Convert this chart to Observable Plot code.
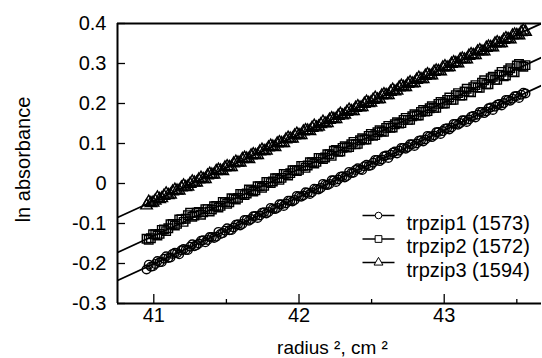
<!DOCTYPE html>
<html><head><meta charset="utf-8">
<script src="https://cdn.jsdelivr.net/npm/d3@7"></script>
<script src="https://cdn.jsdelivr.net/npm/@observablehq/plot@0.6"></script>
<style>
body{margin:0;background:#fff}
#chart svg{display:block}
</style>
</head><body><div id="chart"></div>
<script>
// ---- data ----
// scan A
const radiusSq = [40.95,40.98,41.01,41.04,41.07,41.10,41.13,41.16,41.19,41.22,41.25,41.28,41.31,41.34,41.37,41.40,41.43,41.46,41.49,41.52,41.55,41.58,41.61,41.64,41.67,41.70,41.73,41.76,41.79,41.82,41.85,41.88,41.91,41.94,41.97,42.00,42.03,42.06,42.09,42.12,42.15,42.18,42.21,42.24,42.27,42.30,42.33,42.36,42.39,42.42,42.45,42.48,42.51,42.54,42.57,42.60,42.63,42.66,42.69,42.72,42.75,42.78,42.81,42.84,42.87,42.90,42.93,42.96,42.99,43.02,43.05,43.08,43.11,43.14,43.17,43.20,43.23,43.26,43.29,43.32,43.35,43.38,43.41,43.44,43.47,43.50,43.53,43.56];
const trpzip1 = [-0.215,-0.208,-0.201,-0.197,-0.188,-0.186,-0.176,-0.174,-0.167,-0.166,-0.158,-0.157,-0.150,-0.142,-0.141,-0.134,-0.133,-0.126,-0.118,-0.117,-0.110,-0.102,-0.101,-0.091,-0.089,-0.081,-0.080,-0.072,-0.071,-0.063,-0.061,-0.052,-0.050,-0.043,-0.041,-0.032,-0.030,-0.023,-0.022,-0.014,-0.011,-0.003,-0.001,0.008,0.010,0.018,0.019,0.026,0.034,0.035,0.043,0.044,0.052,0.059,0.060,0.070,0.072,0.080,0.082,0.089,0.091,0.098,0.100,0.108,0.110,0.118,0.120,0.129,0.131,0.138,0.140,0.149,0.151,0.158,0.160,0.169,0.172,0.179,0.180,0.190,0.192,0.199,0.201,0.209,0.212,0.219,0.222,0.225];
const trpzip2 = [-0.138,-0.137,-0.127,-0.126,-0.115,-0.112,-0.101,-0.101,-0.089,-0.088,-0.073,-0.080,-0.071,-0.072,-0.064,-0.065,-0.056,-0.056,-0.047,-0.047,-0.038,-0.036,-0.026,-0.025,-0.017,-0.017,-0.007,-0.006,0.004,0.005,0.013,0.014,0.024,0.026,0.033,0.034,0.044,0.045,0.053,0.054,0.064,0.065,0.073,0.082,0.079,0.089,0.090,0.098,0.098,0.108,0.110,0.119,0.119,0.128,0.130,0.139,0.139,0.148,0.150,0.159,0.159,0.168,0.170,0.179,0.180,0.188,0.189,0.199,0.200,0.209,0.209,0.221,0.220,0.230,0.229,0.241,0.240,0.252,0.248,0.263,0.259,0.272,0.268,0.283,0.279,0.295,0.294,0.296];
const trpzip3 = [-0.055,-0.049,-0.043,-0.039,-0.031,-0.029,-0.020,-0.018,-0.010,-0.009,-0.001,0.002,0.010,0.011,0.020,0.022,0.031,0.032,0.040,0.041,0.050,0.052,0.061,0.062,0.070,0.071,0.080,0.081,0.090,0.092,0.100,0.101,0.110,0.112,0.120,0.121,0.130,0.132,0.139,0.140,0.148,0.150,0.159,0.161,0.169,0.170,0.179,0.181,0.189,0.190,0.199,0.201,0.209,0.210,0.220,0.221,0.229,0.230,0.240,0.241,0.249,0.250,0.259,0.261,0.269,0.270,0.279,0.281,0.290,0.290,0.299,0.301,0.310,0.310,0.319,0.321,0.330,0.330,0.339,0.341,0.350,0.350,0.359,0.361,0.370,0.371,0.378,0.379];
// scan B (interleaved points)
const radiusSqB = [40.965,40.995,41.025,41.055,41.085,41.115,41.145,41.175,41.205,41.235,41.265,41.295,41.325,41.355,41.385,41.415,41.445,41.475,41.505,41.535,41.565,41.595,41.625,41.655,41.685,41.715,41.745,41.775,41.805,41.835,41.865,41.895,41.925,41.955,41.985,42.015,42.045,42.075,42.105,42.135,42.165,42.195,42.225,42.255,42.285,42.315,42.345,42.375,42.405,42.435,42.465,42.495,42.525,42.555,42.585,42.615,42.645,42.675,42.705,42.735,42.765,42.795,42.825,42.855,42.885,42.915,42.945,42.975,43.005,43.035,43.065,43.095,43.125,43.155,43.185,43.215,43.245,43.275,43.305,43.335,43.365,43.395,43.425,43.455,43.485,43.515,43.545];
const trpzip1B = [-0.203,-0.207,-0.194,-0.196,-0.182,-0.185,-0.173,-0.177,-0.164,-0.166,-0.152,-0.154,-0.143,-0.147,-0.134,-0.136,-0.121,-0.124,-0.112,-0.116,-0.103,-0.105,-0.091,-0.093,-0.082,-0.086,-0.073,-0.075,-0.061,-0.064,-0.052,-0.056,-0.043,-0.045,-0.031,-0.033,-0.022,-0.026,-0.013,-0.015,-0.001,-0.004,0.008,0.004,0.017,0.015,0.029,0.027,0.038,0.034,0.047,0.045,0.059,0.056,0.068,0.064,0.077,0.075,0.089,0.087,0.098,0.094,0.107,0.105,0.119,0.116,0.128,0.124,0.137,0.135,0.149,0.147,0.158,0.154,0.167,0.165,0.179,0.176,0.188,0.184,0.197,0.195,0.209,0.207,0.218,0.214,0.227];
const trpzip2B = [-0.141,-0.127,-0.130,-0.116,-0.119,-0.102,-0.105,-0.090,-0.096,-0.079,-0.083,-0.073,-0.078,-0.064,-0.070,-0.057,-0.060,-0.046,-0.051,-0.037,-0.040,-0.026,-0.029,-0.015,-0.020,-0.007,-0.011,0.004,0.001,0.013,0.009,0.024,0.020,0.033,0.031,0.044,0.039,0.053,0.050,0.064,0.061,0.073,0.069,0.084,0.080,0.093,0.091,0.104,0.099,0.113,0.110,0.124,0.121,0.133,0.129,0.144,0.140,0.153,0.151,0.164,0.159,0.173,0.170,0.184,0.181,0.193,0.189,0.204,0.200,0.215,0.209,0.226,0.220,0.237,0.228,0.246,0.239,0.258,0.248,0.267,0.259,0.279,0.270,0.288,0.278,0.299,0.292];
const trpzip3B = [-0.046,-0.048,-0.035,-0.037,-0.025,-0.028,-0.016,-0.018,-0.005,-0.008,0.005,0.002,0.014,0.011,0.024,0.022,0.034,0.031,0.043,0.041,0.054,0.052,0.064,0.061,0.073,0.071,0.084,0.082,0.094,0.091,0.103,0.101,0.114,0.112,0.124,0.121,0.133,0.131,0.144,0.142,0.154,0.151,0.163,0.161,0.174,0.172,0.184,0.181,0.193,0.191,0.204,0.202,0.214,0.211,0.223,0.221,0.234,0.232,0.244,0.241,0.253,0.251,0.264,0.261,0.273,0.270,0.282,0.280,0.293,0.291,0.303,0.300,0.312,0.310,0.323,0.321,0.333,0.330,0.342,0.340,0.353,0.351,0.363,0.360,0.372,0.370,0.382];
const seriesNames = ["trpzip1 (1573)", "trpzip2 (1572)", "trpzip3 (1594)"];
// fitted straight lines: value at each end of the x range
const fitX = [40.75, 43.67];
const fit1 = [-0.2425, 0.245];
const fit2 = [-0.1725, 0.315];
const fit3 = [-0.085, 0.400];
const xDomain = [40.75, 43.67];
const yDomain = [-0.3, 0.4];
const xTicks = [41, 42, 43];
const xMinorTicks = [41.5, 42.5, 43.5];
const yTicks = [-0.3, -0.2, -0.1, 0, 0.1, 0.2, 0.3, 0.4];
const xLabel = "radius \u00b2, cm \u00b2";
const yLabel = "ln absorbance";

// ---- build ----
const yA = [trpzip1, trpzip2, trpzip3];
const yB = [trpzip1B, trpzip2B, trpzip3B];
const fits = [fit1, fit2, fit3];
const styles = [
  {symbol: "circle", r: 4.3},
  {symbol: "square", r: 4.8},
  {symbol: "triangle", r: 4.3}
];
const points = seriesNames.map((name, s) => [
  ...radiusSq.map((x, i) => ({series: name, x, y: yA[s][i]})),
  ...radiusSqB.map((x, i) => ({series: name, x, y: yB[s][i]}))
]);
const fitRows = seriesNames.flatMap((name, s) => fitX.map((x, i) => ({series: name, x, y: fits[s][i]})));

const hline = {draw(ctx) { ctx.moveTo(-16, 0); ctx.lineTo(16, 0); }};

const legendMarks = seriesNames.flatMap((name, s) => {
  const dy = 192 + s * 23.5;
  return [
    Plot.dot([name], {frameAnchor: "top-left", dx: 261, dy, symbol: hline, stroke: "black", strokeWidth: 1.3, r: 4}),
    Plot.dot([name], {frameAnchor: "top-left", dx: 261, dy, symbol: styles[s].symbol, r: styles[s].r - 1, fill: "white", stroke: "black", strokeWidth: 1}),
    Plot.text([name], {frameAnchor: "top-left", dx: 289, dy, text: d => d, textAnchor: "start", fontSize: 20})
  ];
});

const chart = Plot.plot({
  width: 542,
  height: 358,
  marginLeft: 117,
  marginRight: 1,
  marginTop: 23,
  marginBottom: 55,
  style: {fontFamily: "'Liberation Sans', Arial, sans-serif", fontSize: "20px", color: "black", background: "white"},
  x: {domain: xDomain, label: null},
  y: {domain: yDomain, label: null},
  marks: [
    Plot.line(fitRows, {x: "x", y: "y", z: "series", stroke: "black", strokeWidth: 1.8, clip: true}),
    ...points.map((rows, s) => Plot.dot(rows, {x: "x", y: "y", symbol: styles[s].symbol, r: styles[s].r, stroke: "black", strokeWidth: 1.4, fill: "none"})),
    Plot.ruleX(xDomain.slice(0, 1), {stroke: "black", strokeWidth: 2}),
    Plot.ruleY(yDomain, {stroke: "black", strokeWidth: 2}),
    Plot.axisY(yTicks, {tickSize: -8, tickFormat: () => "", label: null, strokeWidth: 1.3}),
    Plot.axisY(yTicks, {tickSize: 0, tickPadding: 11, tickFormat: d => String(d), label: null, fontSize: 20}),
    Plot.axisX(xTicks, {tickSize: -9, tickFormat: () => "", label: null, strokeWidth: 1.3}),
    Plot.axisX(xMinorTicks, {tickSize: -4, tickFormat: () => "", label: null, strokeWidth: 1.3}),
    Plot.axisX(xTicks, {tickSize: 0, tickPadding: 4, tickFormat: d => String(d), label: null, fontSize: 20}),
    Plot.text([yLabel], {frameAnchor: "left", rotate: -90, textAnchor: "middle", lineAnchor: "middle", dx: -94, dy: -4, text: d => d, fontSize: 20}),
    Plot.text([xLabel], {frameAnchor: "bottom", lineAnchor: "middle", dx: 3, dy: 44, text: d => d, fontSize: 19}),
    ...legendMarks
  ]
});
document.getElementById("chart").append(chart);
</script>
</body></html>
